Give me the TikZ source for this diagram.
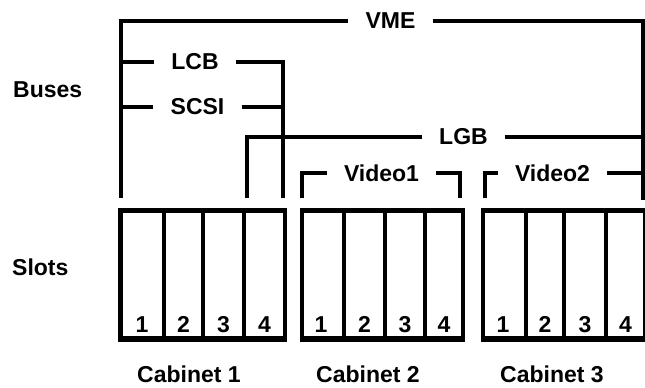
\documentclass[tikz,border=0pt]{standalone}
\usepackage{fontspec}
\setmainfont{Liberation Sans}
\usetikzlibrary{positioning}

\tikzset{
	bus/.style={line width=3.6pt},
	buslabel/.style={font=\fontsize{23}{26}\selectfont\bfseries, inner xsep=17pt, inner ysep=0pt},
	cabinet/.style={line width=4.5pt},
	slotnum/.style={font=\fontsize{23}{26}\selectfont\bfseries, inner sep=0pt, anchor=base},
	sidelabel/.style={font=\fontsize{23}{26}\selectfont\bfseries, inner sep=0pt, anchor=west},
}

\begin{document}
\begin{tikzpicture}[x=1pt,y=-1pt]
		
		\useasboundingbox (0,0) rectangle (645,388);
		
		\node[sidelabel] (buses) at (13,90) {Buses};
		\node[sidelabel] (slots) at (12,267) {Slots};
		
		\node[buslabel] (vme) at (390.5,21) {VME};
		\node[buslabel] (lcb) at (195,62) {LCB};
		\node[buslabel] (scsi) at (197.5,107) {SCSI};
		\node[buslabel] (lgb) at (463.5,137) {LGB};
		\node[buslabel] (video1) at (381.5,173) {Video1};
		\node[buslabel] (video2) at (552.5,173) {Video2};
		
		\coordinate (vmeleft) at (121,198);
		\coordinate (vmeright) at (643,200);
		\coordinate (lcbright) at (283,198);
		\coordinate (lgbleft) at (247,198);
		\coordinate (video1left) at (302,198);
		\coordinate (video1right) at (460,198);
		\coordinate (video2left) at (485,198);
		
		\draw[bus] (vme.west) -| (vmeleft);
		\draw[bus] (vme.east) -| (vmeright);
		\draw[bus] (lcb.west) -- (121,62);
		\draw[bus] (lcb.east) -| (lcbright);
		\draw[bus] (scsi.west) -- (121,107);
		\draw[bus] (scsi.east) -- (283,107);
		\draw[bus] (lgb.west) -| (lgbleft);
		\draw[bus] (lgb.east) -- (643,137);
		\draw[bus] (video1.west) -| (video1left);
		\draw[bus] (video1.east) -| (video1right);
		\draw[bus] (video2.west) -| (video2left);
		\draw[bus] (video2.east) -- (643,173);
		
		\draw[cabinet] (120.25,210.25) rectangle (284.75,339);
		\draw[cabinet] (164,210.25) -- (164,339);
		\draw[cabinet] (203,210.25) -- (203,339);
		\draw[cabinet] (244,210.25) -- (244,339);
		\draw[line width=6.5pt] (118,339) -- (287,339);
		
		\draw[cabinet] (302,210.25) rectangle (463,339);
		\draw[cabinet] (344,210.25) -- (344,339);
		\draw[cabinet] (385,210.25) -- (385,339);
		\draw[cabinet] (425,210.25) -- (425,339);
		\draw[line width=6.5pt] (299.75,339) -- (465.25,339);
		
		\draw[cabinet] (483,210.25) rectangle (645,339);
		\draw[cabinet] (526,210.25) -- (526,339);
		\draw[cabinet] (564,210.25) -- (564,339);
		\draw[cabinet] (606,210.25) -- (606,339);
		\draw[line width=6.5pt] (480.75,339) -- (647.25,339);
		
		\node[slotnum] (c1s1) at (142,332) {1};
		\node[slotnum] (c1s2) at (183.5,332) {2};
		\node[slotnum] (c1s3) at (223.5,332) {3};
		\node[slotnum] (c1s4) at (264.5,332) {4};
		
		\node[slotnum] (c2s1) at (321,332) {1};
		\node[slotnum] (c2s2) at (364.5,332) {2};
		\node[slotnum] (c2s3) at (405,332) {3};
		\node[slotnum] (c2s4) at (444,332) {4};
		
		\node[slotnum] (c3s1) at (503,332) {1};
		\node[slotnum] (c3s2) at (545,332) {2};
		\node[slotnum] (c3s3) at (585,332) {3};
		\node[slotnum] (c3s4) at (625.5,332) {4};
		
		\node[slotnum] (cabinet1) at (189,382) {Cabinet 1};
		\node[slotnum] (cabinet2) at (368,382) {Cabinet 2};
		\node[slotnum] (cabinet3) at (552,382) {Cabinet 3};
		
	\end{tikzpicture}
\end{document}
